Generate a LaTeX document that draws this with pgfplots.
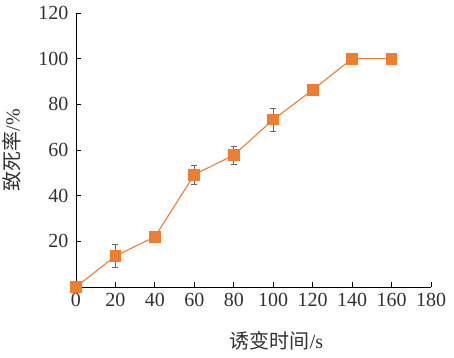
\documentclass[border=0pt]{standalone}
\usepackage{pgfplots}
\pgfplotsset{compat=1.18}
\usepackage{fontspec}
\setmainfont{Liberation Serif}
\newfontfamily\cjk{Noto Sans CJK SC}
\definecolor{orng}{RGB}{237,125,49}
\definecolor{txt}{RGB}{50,50,50}
\begin{document}
\begin{tikzpicture}
\path[use as bounding box] (-76pt,-70pt) rectangle (378pt,287pt);
\begin{axis}[
  scale only axis,
  width=355pt, height=274pt,
  xmin=0, xmax=180, ymin=0, ymax=120,
  xtick={0,20,...,180},
  ytick={20,40,...,120},
  xticklabel={\pgfmathprintnumber[assume math mode=true]{\tick}},
  yticklabel={\pgfmathprintnumber[assume math mode=true]{\tick}},
  axis x line*=bottom, axis y line*=left,
  axis line style={black, line width=0.8pt},
  tick align=inside,
  major tick length=5pt,
  tick style={black, line width=0.8pt},
  ticklabel style={font=\rmfamily\fontsize{20}{21}\selectfont, text=txt},
  xticklabel style={yshift=-3pt},
  yticklabel style={xshift=-4pt},
  xlabel={{\cjk 诱变时间}/s},
  ylabel={{\cjk 致死率}/\%},
  label style={font=\rmfamily\fontsize{20}{21}\selectfont, text=txt},
  xlabel style={at={(rel axis cs:0.565,0)}, anchor=center, yshift=-54pt},
  ylabel style={at={(rel axis cs:0,0.5)}, anchor=center, yshift=64pt},
  clip=false,
]
\addplot[
  color=orng, line width=1.1pt,
  mark=square*, mark size=5.3pt, mark options={fill=orng, draw=orng},
  error bars/.cd, y dir=both, y explicit,
  error bar style={color=gray!80!black, line width=0.6pt},
  error mark options={rotate=90, mark size=3pt, color=gray!80!black},
] coordinates {
  (0,0) +- (0,0)
  (20,13.6) +- (0,5)
  (40,22) +- (0,1.5)
  (60,49.2) +- (0,4)
  (80,57.8) +- (0,4)
  (100,73.3) +- (0,5)
  (120,86.3) +- (0,2)
  (140,100) +- (0,0)
  (160,100) +- (0,0)
};
\end{axis}
\end{tikzpicture}
\end{document}
